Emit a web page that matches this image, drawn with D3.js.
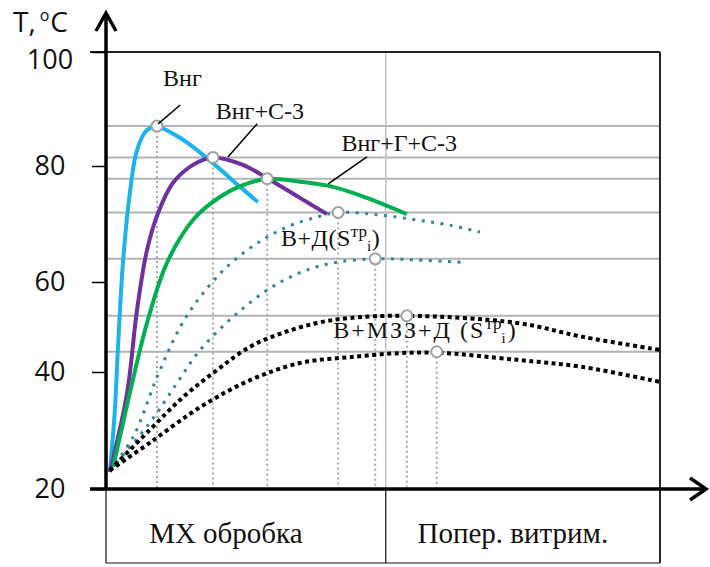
<!DOCTYPE html>
<html>
<head>
<meta charset="utf-8">
<script src="https://cdn.jsdelivr.net/npm/d3@7"></script>
<style>
  body { margin: 0; background: #fff; }
  svg { display: block; }
</style>
</head>
<body>
<svg width="710" height="567"></svg>
<script>
// data: [time (0..100 of process), temperature °C]
const yTicks = [20, 40, 60, 80, 100];

const curveVng = [[0.7, 22.9], [1.6, 33.5], [2.2, 46.4], [3.1, 63.8], [4.3, 75.3], [5.6, 82.8], [7.4, 86.3], [9.2, 86.9], [13.9, 84.6], [19.3, 80.5], [24.2, 76.4], [27.4, 73.8]];
const curveVngS = [[0.7, 22.9], [3.8, 36.4], [5.6, 53.8], [7.4, 65.5], [9.4, 71.9], [12.1, 77.1], [15.7, 80.2], [19.3, 81.5], [24.7, 80.2], [29.1, 77.9], [35.0, 74.5], [39.9, 71.7]];
const curveVngGS = [[1.3, 23.8], [4.3, 36.4], [7.4, 50.9], [11.0, 63.3], [15.7, 70.7], [20.6, 74.7], [24.7, 76.7], [29.1, 77.8], [35.0, 77.3], [41.0, 76.4], [47.1, 74.5], [54.3, 71.7]];
const curveVD1 = [[0.7, 23.2], [4.9, 28.9], [9.2, 39.1], [13.4, 50.0], [17.0, 56.7], [21.8, 62.6], [27.3, 66.7], [32.7, 69.5], [38.1, 71.2], [41.9, 72.0], [48.9, 71.6], [56.1, 70.7], [62.1, 69.8], [67.5, 68.6]];
const curveVD2 = [[0.7, 23.2], [7.9, 31.3], [12.8, 38.1], [17.0, 44.9], [22.9, 52.2], [29.1, 58.2], [35.0, 61.6], [41.0, 63.3], [48.6, 64.0], [56.1, 63.8], [64.4, 63.4]];
const curveVMD1 = [[0.7, 23.2], [7.9, 30.1], [13.9, 35.7], [20.0, 40.4], [26.0, 45.6], [31.9, 48.7], [38.1, 50.9], [44.0, 52.0], [54.3, 52.5], [74.2, 50.9], [86.1, 47.8], [100, 44.9]];
const curveVMD2 = [[0.7, 23.2], [7.9, 27.9], [17.0, 34.0], [26.0, 38.6], [35.0, 42.0], [44.0, 43.3], [53.1, 44.2], [59.7, 44.3], [74.2, 42.7], [86.1, 41.1], [100, 38.3]];

// peak points (markers, reference lines)
const peaks = [[9.2, 87.0], [19.3, 81.5], [29.1, 77.8], [41.9, 72.0], [48.6, 64.0], [54.3, 52.5], [59.7, 44.5]];

// process stages under the axis
const stages = ['МХ обробка', 'Попер. витрим.'];
const stageBounds = [0, 50.5, 100];

// curve labels: text, position [t, T], leader [t1, T1, t2, T2]
const labelTexts = ['Внг', 'Внг+С-3', 'Внг+Г+С-3'];
const labelPos = [[10.3, 94.0], [19.8, 88.2], [42.5, 82.6]];
const leaders = [[13.4, 90.7, 9.4, 87.4], [27.3, 87.4, 22.0, 81.6], [47.1, 81.6, 40.1, 76.9]];
const groupLabels = [['В+Д(S', 'тр', 'i', ')'], ['В+МЗЗ+Д (S', 'тр', 'i', ')']];
const groupPos = [[31.6, 66.2], [41.0, 47.6]];

const svg = d3.select('svg');
const serif = '"Liberation Serif", "Times New Roman", serif';
const sans = '"Open Sans", "Noto Sans", sans-serif';

const x = d3.scaleLinear().domain([0, 100]).range([106, 660]);
const y = d3.scaleLinear().domain(yTicks).range([489, 372, 282, 166, 52]);
const tableBottom = 563;

const series = [
  { data: curveVng, color: '#1cb2ee', width: 4 },
  { data: curveVngS, color: '#7030a0', width: 4 },
  { data: curveVngGS, color: '#00b050', width: 4 },
  { data: curveVD1, color: '#31859c', width: 3, dash: '3,6.5' },
  { data: curveVD2, color: '#31859c', width: 3, dash: '3,6.5' },
  { data: curveVMD1, color: '#000', width: 4, dash: '4,3.5' },
  { data: curveVMD2, color: '#000', width: 4, dash: '4,3.5' }
];

// reference lines
const grid = svg.append('g');
grid.selectAll('.href')
  .data(peaks)
  .enter()
  .append('line')
  .attr('x1', x(0))
  .attr('x2', x(100))
  .attr('y1', d => y(d[1]))
  .attr('y2', d => y(d[1]))
  .attr('stroke', '#b4b4b4')
  .attr('stroke-width', 2);

grid.selectAll('.vref')
  .data(peaks)
  .enter()
  .append('line')
  .attr('x1', d => x(d[0]))
  .attr('x2', d => x(d[0]))
  .attr('y1', d => y(d[1]) + 5)
  .attr('y2', y(20))
  .attr('stroke', '#a8a8a8')
  .attr('stroke-width', 2)
  .attr('stroke-dasharray', '2,3');

grid.append('line')
  .attr('x1', x(stageBounds[1]))
  .attr('x2', x(stageBounds[1]))
  .attr('y1', y(100))
  .attr('y2', y(20))
  .attr('stroke', '#c4c4c4')
  .attr('stroke-width', 1.5);

grid.append('line')
  .attr('x1', 90)
  .attr('x2', x(100))
  .attr('y1', y(100))
  .attr('y2', y(100))
  .attr('stroke', '#222')
  .attr('stroke-width', 1.8);

// curves
const line = d3.line()
  .x(d => x(d[0]))
  .y(d => y(d[1]))
  .curve(d3.curveCatmullRom.alpha(0.5));

svg.append('g')
  .attr('fill', 'none')
  .selectAll('path')
  .data(series)
  .enter()
  .append('path')
  .attr('d', d => line(d.data))
  .attr('stroke', d => d.color)
  .attr('stroke-width', d => d.width)
  .attr('stroke-dasharray', d => d.dash || null);

// markers
svg.append('g')
  .selectAll('circle')
  .data(peaks)
  .enter()
  .append('circle')
  .attr('cx', d => x(d[0]))
  .attr('cy', d => y(d[1]))
  .attr('r', 5.5)
  .attr('fill', '#fff')
  .attr('stroke', '#a0a0a0')
  .attr('stroke-width', 2);

// leaders and labels
svg.append('g')
  .selectAll('line')
  .data(leaders)
  .enter()
  .append('line')
  .attr('x1', d => x(d[0]))
  .attr('y1', d => y(d[1]))
  .attr('x2', d => x(d[2]))
  .attr('y2', d => y(d[3]))
  .attr('stroke', '#000')
  .attr('stroke-width', 1.5);

svg.append('g')
  .selectAll('text')
  .data(labelTexts)
  .enter()
  .append('text')
  .attr('x', (d, i) => x(labelPos[i][0]))
  .attr('y', (d, i) => y(labelPos[i][1]))
  .style('font-family', serif)
  .style('font-size', '24px')
  .attr('fill', '#111')
  .text(d => d);

const gl = svg.append('g')
  .selectAll('text')
  .data(groupLabels)
  .enter()
  .append('text')
  .attr('x', (d, i) => x(groupPos[i][0]))
  .attr('y', (d, i) => y(groupPos[i][1]))
  .style('font-family', serif)
  .style('font-size', '24px')
  .style('letter-spacing', (d, i) => (i === 1 ? '2px' : '0.5px'))
  .attr('fill', '#111');
gl.append('tspan').text(d => d[0]);
gl.append('tspan').attr('dy', -9).style('font-size', '17px').style('letter-spacing', '0px').text(d => d[1]);
gl.append('tspan').attr('dy', 14).style('font-size', '15px').text(d => d[2]);
gl.append('tspan').attr('dy', -5).text(d => d[3]);

// y axis: tick marks from the axis generator, labels placed centred
const yAxis = svg.append('g')
  .attr('transform', `translate(${x(0)},0)`)
  .call(d3.axisLeft(y).tickValues(yTicks).tickSize(14).tickFormat(''));
yAxis.select('.domain').remove();
yAxis.selectAll('.tick line').attr('stroke', '#000').attr('stroke-width', 1.5);

svg.append('g')
  .selectAll('text')
  .data(yTicks)
  .enter()
  .append('text')
  .attr('x', 50)
  .attr('y', d => y(d))
  .attr('dy', d => (d === 100 ? '0.62em' : '0.35em'))
  .attr('text-anchor', 'middle')
  .attr('fill', '#111')
  .style('font-family', sans)
  .style('font-size', '27px')
  .text(d => d);

const axisStroke = { stroke: '#000', width: 3.5 };
svg.append('line')
  .attr('x1', x(0)).attr('x2', x(0))
  .attr('y1', y(20)).attr('y2', 13)
  .attr('stroke', axisStroke.stroke)
  .attr('stroke-width', axisStroke.width);
svg.append('polyline')
  .attr('points', `${x(0) - 10},31 ${x(0)},13 ${x(0) + 10},31`)
  .attr('fill', 'none')
  .attr('stroke', '#000')
  .attr('stroke-width', 3.5);

// x axis
svg.append('line')
  .attr('x1', 90).attr('x2', 706)
  .attr('y1', y(20)).attr('y2', y(20))
  .attr('stroke', axisStroke.stroke)
  .attr('stroke-width', axisStroke.width);
svg.append('polyline')
  .attr('points', `690,${y(20) - 11} 706,${y(20)} 690,${y(20) + 11}`)
  .attr('fill', 'none')
  .attr('stroke', '#000')
  .attr('stroke-width', 3.5);

// right border and stage table
svg.append('g')
  .selectAll('line')
  .data(stageBounds)
  .enter()
  .append('line')
  .attr('x1', d => x(d))
  .attr('x2', d => x(d))
  .attr('y1', (d, i) => (i === 2 ? y(100) : y(20)))
  .attr('y2', tableBottom)
  .attr('stroke', '#111')
  .attr('stroke-width', (d, i) => (i === 2 ? 1.8 : 1.2));

svg.append('line')
  .attr('x1', x(0)).attr('x2', x(100))
  .attr('y1', tableBottom).attr('y2', tableBottom)
  .attr('stroke', '#111')
  .attr('stroke-width', 1.2);

const stageShift = [-20, -10];
svg.append('g')
  .selectAll('text')
  .data(stages)
  .enter()
  .append('text')
  .attr('x', (d, i) => (x(stageBounds[i]) + x(stageBounds[i + 1])) / 2 + stageShift[i])
  .attr('y', 543)
  .attr('text-anchor', 'middle')
  .style('font-family', serif)
  .style('font-size', '29px')
  .attr('fill', '#111')
  .text(d => d);

// y title
const title = svg.append('text')
  .attr('x', 13)
  .attr('y', 32)
  .style('font-family', sans)
  .style('font-size', '28px')
  .attr('fill', '#111');
title.append('tspan').text('T,');
title.append('tspan').attr('dx', 4).attr('dy', -11).style('font-size', '16px').text('o');
title.append('tspan').attr('dx', 1).attr('dy', 11).text('C');
</script>
</body>
</html>
